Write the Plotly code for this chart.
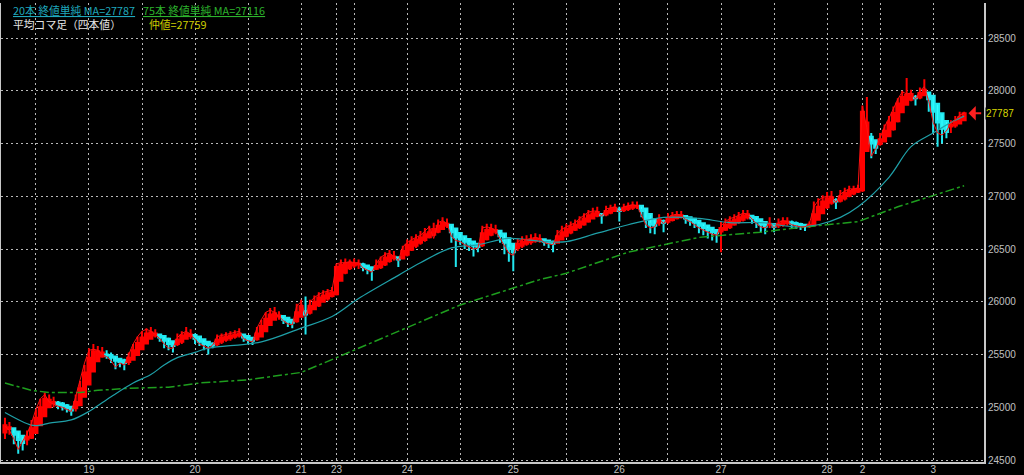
import plotly.graph_objects as go

# ---------------- data (hourly Heikin-Ashi bars) ----------------
ha_open = [24760,24795,24800,24770,24730,24695,24710,24755,24830,24915,
25000,25035,25045,25035,25020,25005,24990,25020,25100,25215,
25340,25435,25480,25500,25495,25480,25460,25445,25430,25450,
25495,25550,25605,25650,25680,25690,25675,25650,25625,25600,
25620,25650,25675,25685,25670,25645,25620,25605,25598,25620,
25640,25655,25668,25680,25690,25675,25658,25645,25670,25720,
25780,25830,25860,25865,25848,25830,25815,25858,25910,25895,
25928,25964,26000,26030,26055,26070,26200,26275,26318,26344,
26352,26356,26343,26326,26313,26327,26353,26387,26413,26422,
26411,26445,26493,26530,26560,26585,26612,26636,26663,26690,
26720,26730,26695,26652,26621,26595,26572,26551,26535,26592,
26636,26663,26672,26646,26603,26551,26510,26530,26550,26565,
26578,26589,26592,26581,26570,26560,26590,26625,26657,26683,
26706,26733,26761,26790,26815,26832,26826,26843,26861,26875,
26868,26879,26890,26900,26910,26885,26832,26781,26750,26765,
26758,26774,26792,26806,26813,26801,26786,26768,26744,26722,
26701,26680,26665,26683,26706,26733,26757,26778,26799,26815,
26803,26781,26756,26733,26737,26724,26732,26746,26753,26747,
26738,26729,26722,26726,26778,26839,26895,26938,26964,26957,
26978,27004,27027,27043,27056,27428,27564,27532,27496,27518,
27569,27635,27712,27796,27868,27914,27942,27936,27958,27984,
27952,27876,27788,27714,27662,27671,27690,27720]

ha_close = [24830,24810,24740,24690,24660,24720,24800,24900,25000,25080,
25070,25050,25020,25010,24990,24970,25050,25180,25330,25470,
25530,25530,25520,25490,25470,25440,25430,25420,25470,25540,
25610,25660,25700,25710,25700,25660,25630,25600,25580,25640,
25680,25700,25690,25650,25620,25600,25590,25585,25640,25660,
25670,25680,25690,25700,25660,25640,25630,25700,25770,25840,
25880,25890,25870,25830,25810,25800,25900,25960,25880,25960,
26000,26040,26060,26080,26090,26330,26350,26360,26370,26360,
26360,26330,26310,26300,26340,26380,26420,26440,26430,26400,
26480,26540,26570,26590,26610,26640,26660,26690,26720,26750,
26740,26660,26610,26590,26570,26550,26530,26520,26650,26680,
26690,26680,26620,26560,26500,26470,26550,26570,26580,26590,
26600,26595,26570,26560,26550,26620,26660,26690,26710,26730,
26760,26790,26820,26840,26850,26820,26860,26880,26890,26860,
26890,26900,26910,26910,26860,26780,26730,26720,26780,26750,
26790,26810,26820,26820,26790,26770,26750,26720,26700,26680,
26660,26650,26700,26730,26760,26780,26800,26820,26830,26790,
26760,26730,26710,26740,26710,26740,26760,26760,26740,26730,
26720,26715,26730,26830,26900,26950,26980,26990,26950,27000,
27030,27050,27060,27070,27800,27700,27500,27460,27540,27620,
27700,27790,27880,27940,27960,27970,27930,27980,28010,27920,
27800,27700,27640,27610,27680,27710,27750,27787]

ha_high = [24900,24860,24800,24770,24730,24780,24880,24980,25080,25140,
25120,25100,25060,25050,25030,25010,25120,25250,25400,25560,
25600,25580,25570,25540,25520,25490,25470,25460,25520,25600,
25670,25720,25750,25760,25740,25700,25680,25660,25630,25700,
25720,25760,25740,25700,25680,25650,25630,25615,25690,25700,
25710,25720,25730,25750,25700,25680,25665,25760,25830,25900,
25940,25950,25910,25870,25850,25840,25980,26020,26050,26020,
26060,26090,26110,26120,26140,26360,26400,26410,26400,26410,
26400,26370,26350,26330,26400,26430,26470,26490,26480,26430,
26530,26590,26620,26640,26670,26700,26720,26750,26780,26800,
26790,26740,26700,26660,26630,26600,26580,26560,26720,26740,
26740,26730,26680,26650,26610,26560,26600,26620,26630,26640,
26650,26640,26600,26590,26580,26680,26720,26740,26760,26780,
26810,26840,26870,26890,26900,26840,26910,26920,26930,26900,
26930,26940,26950,26950,26920,26890,26840,26790,26830,26780,
26840,26850,26860,26860,26820,26810,26790,26775,26750,26730,
26710,26690,26760,26790,26810,26830,26850,26870,26870,26820,
26810,26790,26760,26800,26745,26790,26800,26800,26770,26760,
26750,26740,26760,26950,26980,27010,27040,27050,26980,27060,
27080,27100,27100,27110,27860,27940,27600,27540,27600,27680,
27760,27850,27930,28000,28120,28010,27960,28030,28110,27990,
27955,27880,27790,27720,27720,27760,27800,27800]

ha_low = [24700,24740,24650,24560,24590,24640,24700,24750,24830,24915,
24990,25000,24980,24970,24950,24920,24960,25010,25090,25210,
25330,25430,25470,25460,25420,25360,25380,25350,25400,25440,
25490,25545,25600,25640,25660,25620,25560,25540,25520,25580,
25600,25640,25650,25600,25580,25540,25500,25560,25580,25600,
25620,25630,25650,25660,25620,25600,25590,25630,25665,25715,
25775,25820,25830,25790,25760,25750,25800,25850,25690,25880,
25920,25950,25990,26010,26040,26060,26190,26260,26300,26320,
26310,26290,26260,26200,26300,26310,26340,26370,26390,26330,
26400,26430,26480,26510,26540,26570,26600,26620,26650,26680,
26700,26560,26330,26540,26500,26480,26430,26470,26520,26580,
26620,26640,26560,26450,26380,26290,26480,26510,26530,26540,
26560,26560,26530,26510,26470,26550,26580,26610,26640,26670,
26690,26720,26750,26780,26800,26740,26810,26830,26850,26760,
26850,26860,26870,26880,26800,26700,26650,26640,26720,26660,
26740,26760,26780,26790,26740,26720,26700,26650,26630,26600,
26580,26560,26470,26670,26690,26720,26740,26760,26780,26740,
26700,26660,26640,26700,26660,26700,26710,26720,26700,26690,
26680,26670,26700,26720,26770,26830,26880,26920,26880,26940,
26960,26990,27010,27030,27040,27420,27360,27400,27480,27510,
27560,27620,27700,27790,27860,27900,27860,27920,27950,27800,
27600,27470,27500,27550,27600,27650,27680,27710]

# raw mid price (thin red line)
mid_price = [24820,24780,24700,24600,24680,24750,24850,24980,25080,25120,
25050,25030,25010,25000,24980,24960,25100,25250,25420,25540,
25550,25540,25500,25480,25440,25380,25420,25400,25500,25600,
25670,25720,25740,25720,25690,25650,25600,25560,25560,25660,
25700,25720,25690,25640,25600,25580,25560,25590,25670,25680,
25690,25700,25710,25720,25650,25630,25620,25750,25830,25900,
25920,25900,25860,25820,25790,25780,25960,26000,25860,26000,
26040,26070,26090,26100,26110,26360,26370,26370,26380,26370,
26370,26320,26300,26280,26360,26420,26450,26460,26430,26390,
26520,26560,26590,26610,26630,26670,26710,26600,26750,26770,
26740,26620,26580,26570,26540,26520,26500,26510,26700,26710,
26700,26670,26600,26520,26460,26440,26570,26590,26590,26600,
26610,26600,26560,26550,26540,26650,26690,26710,26730,26750,
26790,26820,26850,26860,26860,26810,26880,26890,26900,26850,
26900,26910,26920,26910,26820,26730,26700,26710,26790,26740,
26800,26820,26830,26820,26780,26760,26730,26700,26680,26660,
26640,26630,26720,26760,26790,26800,26820,26840,26830,26780,
26740,26710,26700,26750,26700,26750,26770,26760,26730,26720,
26710,26710,26740,26900,26960,26990,27000,27000,26940,27020,
27050,27070,27070,27080,27850,27650,27380,27450,27560,27660,
27740,27830,27920,27990,27970,27980,27920,28000,28040,27900,
27700,27600,27580,27620,27690,27720,27770,27787]

# moving averages read at sample bars
ma20_bar = [0,6,8,10,15,19,24,29,33,36,39,43,46,58,67,74,80,89,94,101,107,114,
            122,127,134,141,149,157,164,171,179,184,189,193,200,205,210,214,216,217]
ma20_val = [24950,24830,24830,24850,24880,24960,25100,25230,25310,25400,25470,25520,
            25560,25620,25750,25860,26030,26250,26370,26510,26540,26600,26570,26570,
            26650,26730,26800,26790,26750,26750,26710,26730,26800,26900,27180,27470,
            27600,27700,27740,27760]
ma75_bar = [0,6,10,17,21,28,37,44,55,67,75,94,103,112,121,127,141,157,171,179,193,202,216,217]
ma75_val = [25230,25160,25140,25140,25160,25180,25190,25230,25260,25330,25470,25810,
            25970,26090,26210,26270,26470,26610,26660,26700,26760,26900,27080,27100]

# axis ticks (bar index of grid lines) and labels
tick_bar = [7,19,31,43,55,67,75,79,91,103,115,127,139,150,162,174,186,194,198,210]
tick_text = ["","19","","20","","21","23","","24","","25","","26","","27","","28","2","","3"]
y_ticks = [24500,25000,25500,26000,26500,27000,27500,28000,28500]

last_price = 27787
bars = list(range(len(ha_close)))

# ---------------- figure ----------------
fig = go.Figure()

fig.add_trace(go.Scatter(x=ma75_bar, y=ma75_val, mode="lines",
                         line=dict(color="#1E9E1E", width=1.5, dash="dashdot"),
                         hoverinfo="skip"))
fig.add_trace(go.Scatter(x=ma20_bar, y=ma20_val, mode="lines",
                         line=dict(color="#1FA0A8", width=1.2, shape="spline"),
                         hoverinfo="skip"))
fig.add_trace(go.Candlestick(
    x=bars, open=ha_open, high=ha_high, low=ha_low, close=ha_close,
    increasing=dict(line=dict(color="#FF0000", width=2), fillcolor="#FF0000"),
    decreasing=dict(line=dict(color="#22E8F0", width=2), fillcolor="#33FFFF"),
    whiskerwidth=0))
fig.add_trace(go.Scatter(x=bars, y=mid_price, mode="lines",
                         line=dict(color="#FF1010", width=1), hoverinfo="skip"))

grid = dict(showgrid=True, gridcolor="#B8B8B8", gridwidth=1, griddash="2px,3px")

fig.update_layout(
    width=1024, height=475,
    margin=dict(l=1, r=40, t=3, b=13),
    paper_bgcolor="black", plot_bgcolor="black",
    showlegend=False, boxgap=0,
    font=dict(family="Liberation Sans", size=10, color="#C0C0C0"),
    xaxis=dict(range=[-0.9, 221.5], tickmode="array", tickvals=tick_bar, ticktext=tick_text,
               rangeslider=dict(visible=False), showline=True, linecolor="#C8C8C8", linewidth=2,
               zeroline=False, ticks="", automargin=False, ticklabelstandoff=-3,
               tickfont=dict(size=10, color="#C0C0C0"), **grid),
    yaxis=dict(range=[24481, 28832], side="right", tickmode="array", tickvals=y_ticks,
               ticktext=[str(v) for v in y_ticks], showline=True, mirror=True,
               linecolor="#C8C8C8", linewidth=2, zeroline=False, ticks="", automargin=False,
               tickfont=dict(size=10, color="#C0C0C0"), **grid),
)

# arrow + last price label
fig.add_annotation(x=218.0, y=last_price, ax=221.2, ay=last_price, axref="x", ayref="y",
                   xref="x", yref="y", text="", showarrow=True, arrowhead=1,
                   arrowsize=1.2, arrowwidth=2, arrowcolor="#FF2020")
fig.add_annotation(x=1, y=last_price, xref="paper", yref="y", xanchor="left", xshift=1,
                   text=str(last_price), showarrow=False, bgcolor="black",
                   font=dict(size=10, color="#D8D800", family="Liberation Sans"), borderpad=0)

def px(xp):
    return (xp - 1) / 983.0

def py(yp):
    return (462 - yp) / 459.0

cjk = "Noto Sans CJK JP"
fig.add_annotation(x=px(11), y=py(10), xref="paper", yref="paper", xanchor="left", yanchor="middle",
                   text="<u>20本 終値単純 MA=27787</u>", showarrow=False,
                   font=dict(family=cjk, size=10.8, color="#1FA8BC"))
fig.add_annotation(x=px(141), y=py(10), xref="paper", yref="paper", xanchor="left", yanchor="middle",
                   text="<u>75本 終値単純 MA=27116</u>", showarrow=False,
                   font=dict(family=cjk, size=10.8, color="#2DB32D"))
fig.add_annotation(x=px(11), y=py(24), xref="paper", yref="paper", xanchor="left", yanchor="middle",
                   text="平均コマ足（四本値）", showarrow=False,
                   font=dict(family=cjk, size=10.8, color="#E6E6E6"))
fig.add_annotation(x=px(147), y=py(24), xref="paper", yref="paper", xanchor="left", yanchor="middle",
                   text="仲値=27759", showarrow=False,
                   font=dict(family=cjk, size=10.8, color="#CCCC00"))

fig.write_html("out.html", config={"displayModeBar": False},
               post_script="document.body.style.margin='0';document.body.style.padding='0';")
